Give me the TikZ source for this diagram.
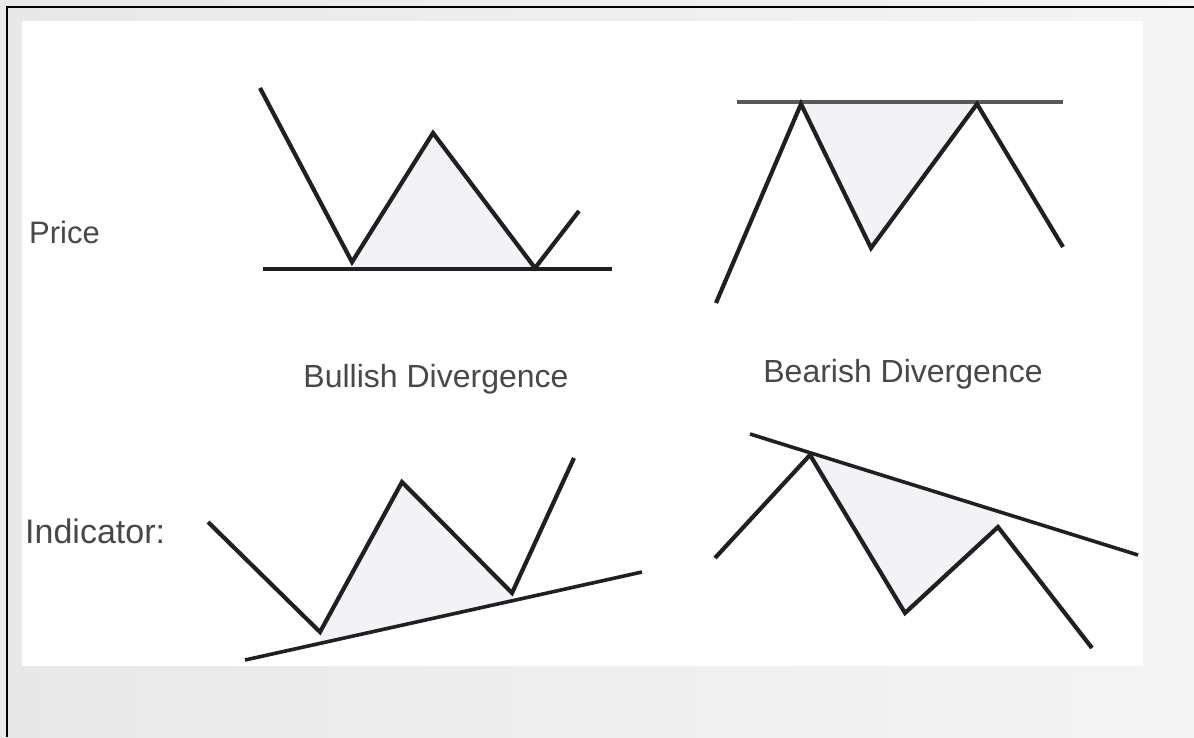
\documentclass[tikz,border=0pt]{standalone}
\usepackage{fontspec}
\setmainfont{Liberation Sans}
\usetikzlibrary{calc}
\definecolor{txtgray}{HTML}{484848}
\definecolor{inkline}{HTML}{202020}
\definecolor{shade}{HTML}{F3F3F7}
\begin{document}
\begin{tikzpicture}[
    x=1pt, y=-1pt,
    line join=miter,
    every node/.style={font=\fontsize{31}{34}\selectfont, text=txtgray, inner sep=0pt},
    zig/.style={draw=inkline, line width=4.2pt},
    level/.style={draw=inkline, line width=3.6pt},
    gap/.style={fill=shade},
    title/.style={anchor=base, font=\fontsize{32}{34}\selectfont}
]
% frame and background
\useasboundingbox (0,0) rectangle (1194,737);
\shade[left color=black!9, right color=black!4] (0,0) rectangle (1194,737);
\fill[white] (22,21) rectangle (1143,666);
\draw[black, line width=2pt] (7,737) -- (7,7) -- (1194,7);

% labels
\node[anchor=base west] (price) at (29,243) {Price};
\node[anchor=base west, font=\fontsize{34}{36}\selectfont] (ind) at (25,543) {Indicator:};
\node[title] (bull) at (436,387) {Bullish Divergence};
\node[title] (bear) at (903,382) {Bearish Divergence};

% bullish price
\coordinate (p1) at (260,88);
\coordinate (p2) at (352,262);
\coordinate (p3) at (433,133);
\coordinate (p4) at (535,268);
\coordinate (p5) at (579,211);
\coordinate (pl) at (263,269);
\coordinate (pr) at (612,269);
\fill[gap] (p2) -- (p3) -- (p4) -- (p4 |- pl) -- (p2 |- pl) -- cycle;
\draw[level] (pl) -- (pr);
\draw[zig] (p1) -- (p2) -- (p3) -- (p4) -- (p5);

% bearish price
\coordinate (q1) at (716,303);
\coordinate (q2) at (801,104);
\coordinate (q3) at (871,248);
\coordinate (q4) at (977,104);
\coordinate (q5) at (1063,247);
\coordinate (ql) at (737,102);
\coordinate (qr) at (1063,102);
\fill[gap] (q2) -- (q3) -- (q4) -- cycle;
\draw[level, draw=black!65, line width=4.5pt] (ql) -- (qr);
\draw[zig] (q1) -- (q2) -- (q3) -- (q4) -- (q5);

% bullish indicator
\coordinate (r1) at (208,522);
\coordinate (r2) at (320,632);
\coordinate (r3) at (402,482);
\coordinate (r4) at (512,593);
\coordinate (r5) at (574,458);
\coordinate (rl) at (245,660);
\coordinate (rr) at (642,572);
\fill[gap] (r2) -- (r3) -- (r4) -- ($(rl)!0.672!(rr)$) -- ($(rl)!0.189!(rr)$) -- cycle;
\draw[level] (rl) -- (rr);
\draw[zig] (r1) -- (r2) -- (r3) -- (r4) -- (r5);

% bearish indicator
\coordinate (s1) at (715,558);
\coordinate (s2) at (810,455);
\coordinate (s3) at (905,613);
\coordinate (s4) at (998,527);
\coordinate (s5) at (1092,648);
\coordinate (sl) at (750,434);
\coordinate (sr) at (1138,555);
\fill[gap] (s2) -- (s3) -- (s4) -- ($(sl)!0.639!(sr)$) -- cycle;
\draw[level] (sl) -- (sr);
\draw[zig] (s1) -- (s2) -- (s3) -- (s4) -- (s5);
\end{tikzpicture}
\end{document}
